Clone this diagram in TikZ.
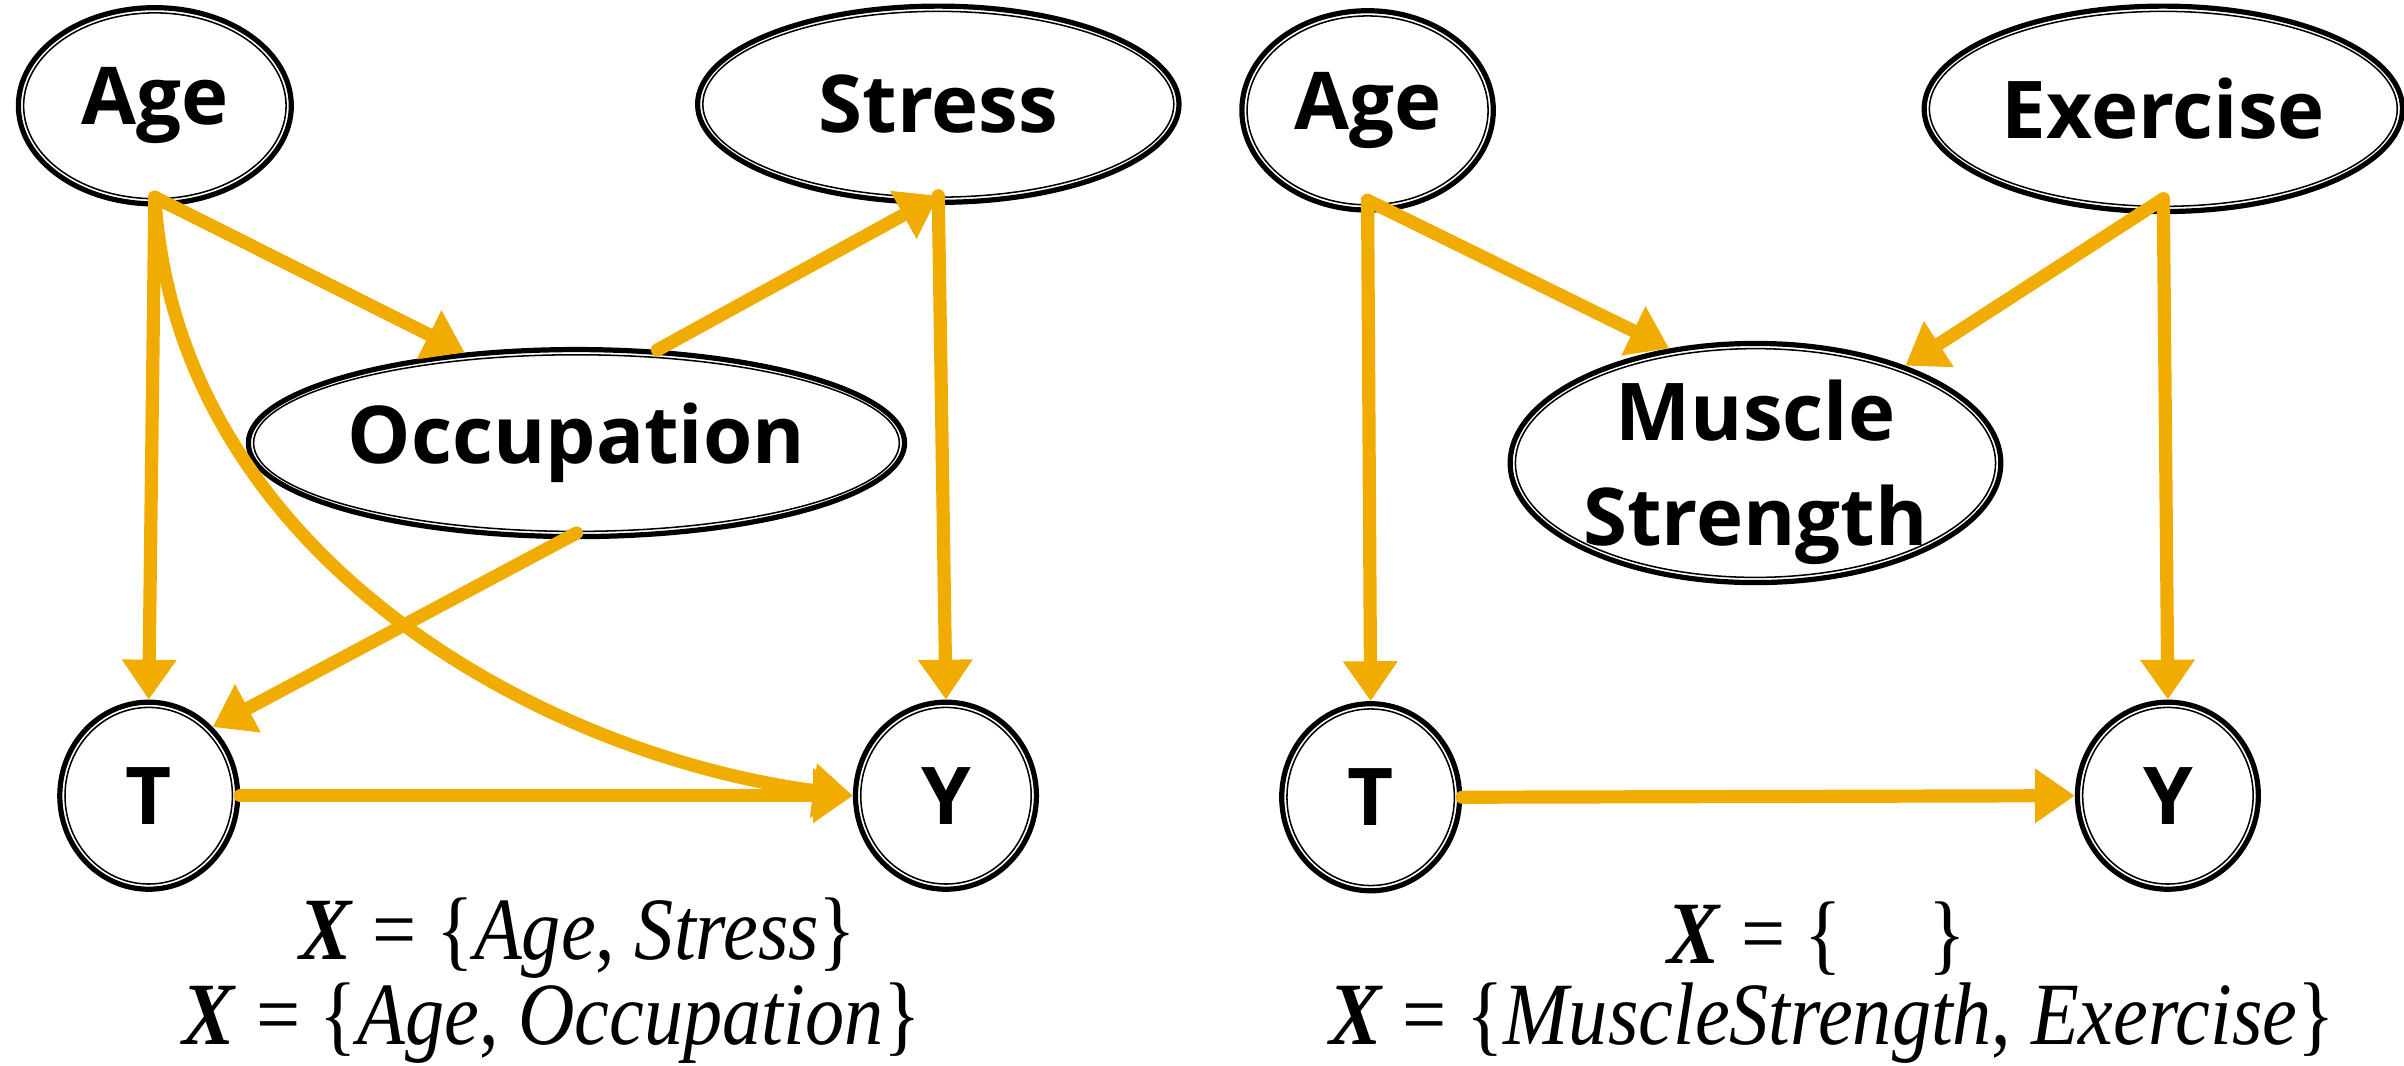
\documentclass[tikz,border=0pt]{standalone}
\usepackage{fontspec}
\setmainfont[FakeStretch=0.88]{Liberation Serif}
\newfontfamily\nodefont{Open Sans}
\usetikzlibrary{shapes.geometric,arrows.meta}
\definecolor{gold}{HTML}{F0AC00}
\newcommand\dnode[7][]{%
  \node[dn,minimum width=#5pt,minimum height=#6pt,label={[lbl,#1]center:#7}] (#2) at (#3,#4) {};
  \draw[line width=0.5pt] (#2.center) ellipse [x radius={#5pt/2-1.7pt}, y radius={#6pt/2-1.7pt}];
}
\begin{document}
\begin{tikzpicture}[x=0.5pt,y=-0.5pt,
  dn/.style={ellipse,draw=black,line width=1.7pt,inner sep=0pt,fill=white},
  lbl/.style={font=\nodefont\bfseries\fontsize{26pt}{34.5pt}\selectfont,align=center,inner sep=0pt},
  arr/.style={draw=gold,line width=4.3pt,line cap=round,-{Triangle[length=13pt,width=17pt]}},
  fml/.style={font=\fontsize{29pt}{33pt}\selectfont,inner sep=0pt}]
\useasboundingbox (0,0) rectangle (1568,695);
% left panel
\dnode{ageL}{101}{69}{89}{64}{Age}
\dnode{stress}{612}{68}{157}{64}{Stress}
\dnode{occ}{376}{289}{214}{61}{Occupation}
\dnode{TL}{97}{519}{58}{61}{T}
\dnode{YL}{617}{519}{59}{61}{Y}
% right panel
\dnode{ageR}{892}{72}{82}{65}{Age}
\dnode{exer}{1411}{71}{156}{67}{Exercise}
\dnode[yshift=-3pt]{ms}{1145}{302}{160}{78}{Muscle\\Strength}
\dnode{TR}{894}{520}{58}{61}{T}
\dnode{YR}{1414}{519}{59}{61}{Y}
% left arrows
\draw[arr] ([yshift=3pt]ageL.south) -- (TL.north);
\draw[arr] ([yshift=3pt]ageL.south) -- (occ.141);
\draw[arr] (occ.49) -- ([yshift=3pt]stress.south);
\draw[arr] ([yshift=3pt]stress.south) -- (YL.north);
\draw[arr] ([yshift=2pt]occ.south) -- (TL.47);
\draw[arr] ([yshift=3pt]ageL.south) .. controls (115,360) and (350,492) .. (YL.west);
\draw[arr] (TL.east) -- (YL.west);
% right arrows
\draw[arr] ([yshift=4pt]ageR.south) -- (TR.north);
\draw[arr] ([yshift=4pt]ageR.south) -- (ms.127);
\draw[arr] ([yshift=5pt]exer.south) -- (ms.33);
\draw[arr] ([yshift=5pt]exer.south) -- (YR.north);
\draw[arr] (TR.east) -- (YR.west);
% formulas
\node[fml] (f1) at (377,612) {\textbf{\textit{X}} = \{\textit{Age}, \textit{Stress}\}};
\node[fml] (f2) at (360,667) {\textbf{\textit{X}} = \{\textit{Age}, \textit{Occupation}\}};
\node[fml] (f3) at (1185,612) {\textbf{\textit{X}} = \{\hspace{28pt}\}};
\node[fml] (f4) at (1195,667) {\textbf{\textit{X}} = \{\textit{MuscleStrength}, \textit{Exercise}\}};
\end{tikzpicture}
\end{document}
